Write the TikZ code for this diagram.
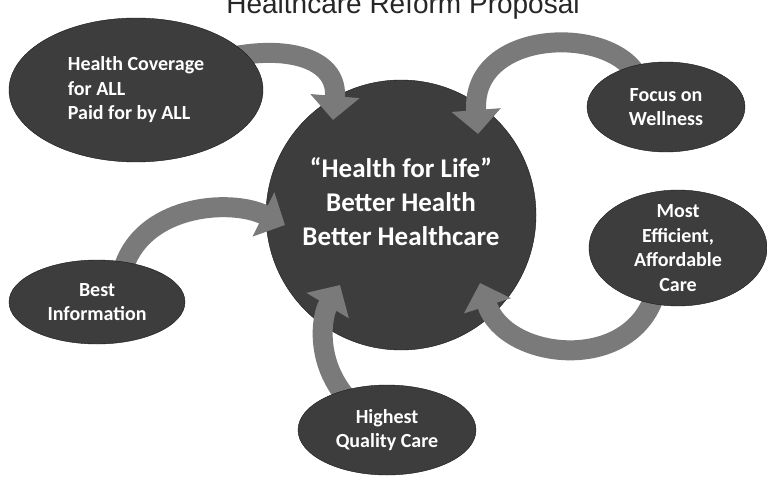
\documentclass[tikz,border=0pt]{standalone}
\usepackage{fontspec}
\setmainfont{Carlito}
\newfontfamily\titlefont{Liberation Sans}
\usetikzlibrary{shapes.geometric, arrows.meta, calc}
\pgfdeclarelayer{front}
\pgfsetlayers{main,front}

\begin{document}
\begin{tikzpicture}[x=1pt, y=1pt,
	bubble/.style={ellipse, draw=black!90, fill=black!76, text=white, align=center, inner sep=-6pt, font=\bfseries\fontsize{20}{24.5}\selectfont},
	flow/.style={line width=20pt, draw=black!52, shorten <=-10pt, -{Triangle[length=24pt, width=48pt]}}]
			\useasboundingbox (0,0) rectangle (767,-476);
			% Title
			\node[font=\titlefont\fontsize{28}{28}\selectfont, text=black!85, anchor=base] (title) at (403,-14) {Healthcare Reform Proposal};
			% Outer bubbles
			\begin{pgfonlayer}{front}
			\node[bubble, align=left, minimum width=254, minimum height=144] (cover) at (136,-90) {Health Coverage\\for ALL\\Paid for by ALL};
			\node[bubble, minimum width=158, minimum height=90] (focus) at (666,-107) {Focus on\\Wellness};
			\node[bubble, minimum width=178, minimum height=116] (effic) at (678,-248) {Most\\Efficient,\\Affordable\\Care};
			\node[bubble, minimum width=176, minimum height=84] (info) at (97,-302) {Best\\Information};
			\node[bubble, minimum width=178, minimum height=90] (quality) at (387,-430) {Highest\\Quality Care};
			\end{pgfonlayer}
			% Hub
			\node[circle, draw=black!90, fill=black!76, minimum size=270] (hub) at (401,-215) {};
			\node[text=white, align=center, font=\bfseries\fontsize{27}{34}\selectfont] (motto) at ([yshift=13]hub.center) {“Health for Life”\\Better Health\\Better Healthcare};
			% Arrows into the hub
			\draw[flow] (cover.18) .. controls +(45,8) and +(5,60) .. ($(hub.center)+(-68,95)$);
			\draw[flow] (focus.130) .. controls +(-25,42) and +(-8,104) .. ($(hub.center)+(77,81)$);
			\draw[flow] (info.55) .. controls +(15,57) and +(-55,27) .. ($(hub.center)+(-116,-10)$);
			\draw[flow] (quality.140) .. controls +(-27,31) and +(-18,-30) .. ($(hub.center)+(-61,-70)$);
			\draw[flow] (effic.245) .. controls +(-22,-71) and +(25,-77) .. ($(hub.center)+(79,-68)$);
		\end{tikzpicture}
\end{document}
